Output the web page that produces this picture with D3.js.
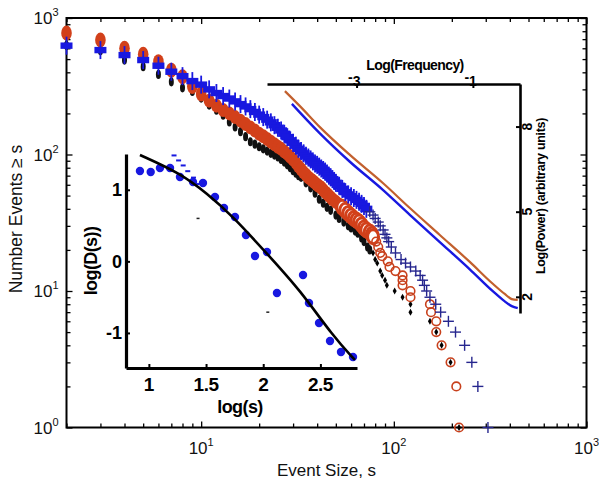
<!DOCTYPE html>
<html><head><meta charset="utf-8">
<script src="https://cdn.jsdelivr.net/npm/d3@7/dist/d3.min.js"></script>
<style>
html,body{margin:0;padding:0;background:#fff;}
svg{display:block;font-family:"Liberation Sans",Arial,Helvetica,sans-serif;}
</style></head><body>
<svg id="c" width="599" height="482"></svg>
<script>
// ---------- main plot data: [event size s, number of events >= s] ----------
const blackBand = [[2,630],[3,575],[4,492],[5,440],[6,386],[7,341],[8,308],[9,290],[10,259],[11,230],[12,211],[13,194],[14,173],[15,159],[16,147],[17,135],[18,124],[19,119],[20,114],[21,110],[22,106],[23,102],[24,99],[25,96],[26,92],[27,88],[28,84],[29,80],[30,76],[31,73],[32,70],[33,68],[35,62],[37,57],[39,52],[41,47],[43,44],[45,41],[47,39],[50,36],[52,34],[55,32],[58,30],[60,29],[63,27.5],[65,26.5],[68,24.5],[70,23],[73,21],[75,20]];
const blackTail = [[78,19],[80,17],[82,16],[85,14],[87,13],[90,12],[92,11],[101,10],[111,9],[122,8],[122,7],[154,6],[166,5],[177,4],[197,3],[218,1]];
const redHead = [[2,776],[3,690],[4,600],[5,542],[6,479],[7,415],[8,371],[9,315],[10,278]];
const redBand = [[11,248],[12,228],[13,212],[14,200],[15,188],[16,177],[17,167],[18,158],[19,150],[20,142],[21,136],[22,130],[23,124],[24,119],[25,114],[26,110],[27,105],[28,101],[29,96],[30,92],[31,87],[32,82],[33,78],[34,74],[35,71],[36,68],[37,66],[38,64],[39,62],[40,60],[41,58.5],[42,57],[43,55],[44,53],[45,51.5],[46,50],[47,48.5],[48,47],[50,45],[52,43],[54,41],[56,39],[58,37],[60,35.5],[62,34],[64,33],[66,32],[68,30.5],[70,29],[72,28],[75,27],[77,26],[78,25]];
const redTail = [[81,23],[83,21],[85,19],[87,18],[93,16.5],[95,15],[102,14],[111,13],[111,12],[111,11],[122,10],[122,9],[154,8],[156,7],[166,6],[166,5],[177,4],[197,3],[211,2],[218,1]];
const blueHead = [[2,627],[3,582],[4,535],[5,492],[6,447],[7,404],[8,375],[9,345],[10,325]];
const blueBand = [[11,300],[12,282],[13,268],[14,257],[15,245],[16,234],[17,225],[18,215],[19,205],[20,196],[21,188],[22,180],[23,172],[24,164],[25,157],[26,150],[27,142],[28,134],[29,127],[30,122],[31,116],[32,110],[33,106],[34,102],[35,98],[36,95],[37,92],[38,89],[39,86],[40,84],[41,81.5],[42,79],[43,77],[44,75],[45,72.5],[46,70],[47,68],[48,66],[49,64],[50,62],[52,59],[54,56],[56,53],[58,51],[60,49.5],[62,48],[64,46.5],[66,45],[68,43.5],[70,42],[72,40]];
const blueTail = [[75,38],[78,36],[80,34],[83,32],[85,30],[88,28],[90,26],[92,24.5],[94,23],[97,21],[102,19],[109,17],[115,16],[122,15],[130,14],[137,13],[141,12],[144,11],[148,10],[154,9],[165,8],[175,7],[192,6],[209,5],[233,4],[254,3],[273,2],[308,1]];
const mainXMajor = [10,100,1000];
const mainYMajor = [1,10,100,1000];
const mainXLabels = [[10,"1"],[100,"2"],[1000,"3"]];
const mainYLabels = [[1,"0"],[10,"1"],[100,"2"],[1000,"3"]];

// ---------- upper-right inset: power spectra [log frequency, log power] ----------
const specOrange = [[-4.232,9.25],[-3.974,8.72],[-3.631,7.98],[-3.115,7.00],[-2.548,6.01],[-2.084,5.13],[-1.569,4.18],[-1.053,3.23],[-0.658,2.46],[-0.452,2.10],[-0.332,1.92],[-0.229,1.89]];
const specBlue = [[-4.112,8.80],[-3.631,7.76],[-3.115,6.76],[-2.548,5.77],[-2.084,4.89],[-1.569,3.93],[-1.053,2.97],[-0.658,2.20],[-0.452,1.84],[-0.332,1.67],[-0.229,1.60]];
const specXTicks = [-3,-1];
const specYTicks = [8,5,2];

// ---------- lower-left inset: log(D(s)) vs log(s) ----------
const dPoints = [[0.922,1.263],[1.016,1.249],[1.097,1.305],[1.185,1.305],[1.272,1.179],[1.386,1.109],[1.473,1.095],[1.578,0.899],[1.657,0.746],[1.753,0.620],[1.849,0.368],[1.928,0.075],[2.033,0.131],[2.120,-0.442],[2.348,-0.191],[2.400,-0.582],[2.488,-0.861],[2.584,-1.113],[2.680,-1.266],[2.785,-1.336]];
const dFit = [[0.922,1.486],[1.272,1.233],[1.506,0.951],[1.738,0.624],[2.030,0.112],[2.322,-0.400],[2.613,-1.053],[2.802,-1.378]];
const dDashes = [[1.22,1.48],[1.26,1.41],[1.30,1.34],[1.34,1.26],[1.39,1.17],[1.42,1.08]];
const dStray = [[1.43,0.60],[2.04,-0.71]];
const dXTicks = [1,1.5,2,2.5];
const dYTicks = [-1,0,1];

const svg = d3.select('#c');
const RED = '#d2401a', BLUE = '#1818e0', NAVY = '#26268e';

// ===== main scales =====
const L = 66.5, R = 586.5, T = 18, B = 427.5;
const x = d3.scaleLog().domain([2,1000]).range([L,R]);
const y = d3.scaleLog().domain([1,1000]).range([B,T]);

// ===== main axes (ticks inward on all sides) =====
function minorOf(sc){ return sc.ticks().filter(v => !Number.isInteger(Math.log10(v)) ); }
const xMinor = minorOf(x), yMinor = minorOf(y);
const axG = svg.append('g').attr('class','axes');
function addAxis(gen, tr){
  const g = axG.append('g').attr('transform', tr).call(gen);
  g.select('.domain').remove();
  g.selectAll('text').remove();
  g.selectAll('line').attr('stroke','#000').attr('stroke-width',1.3);
}
addAxis(d3.axisBottom(x).tickValues(mainXMajor).tickSize(-6), `translate(0,${B})`);
addAxis(d3.axisBottom(x).tickValues(xMinor).tickSize(-4), `translate(0,${B})`);
addAxis(d3.axisTop(x).tickValues(mainXMajor).tickSize(-6), `translate(0,${T})`);
addAxis(d3.axisTop(x).tickValues(xMinor).tickSize(-4), `translate(0,${T})`);
addAxis(d3.axisLeft(y).tickValues(mainYMajor).tickSize(-6), `translate(${L},0)`);
addAxis(d3.axisLeft(y).tickValues(yMinor).tickSize(-4), `translate(${L},0)`);
addAxis(d3.axisRight(y).tickValues(mainYMajor).tickSize(-6), `translate(${R},0)`);
addAxis(d3.axisRight(y).tickValues(yMinor).tickSize(-4), `translate(${R},0)`);
axG.append('rect').attr('x',L).attr('y',T).attr('width',R-L).attr('height',B-T)
  .attr('fill','none').attr('stroke','#000').attr('stroke-width',2);

// tick labels 10^n
mainXLabels.forEach(([v,e])=>{
  const t = svg.append('text').attr('x',x(v)).attr('y',B+26).attr('text-anchor','middle')
    .attr('font-size',17).attr('fill','#111');
  t.append('tspan').text('10');
  t.append('tspan').attr('dy',-8).attr('font-size',11).text(e);
});
mainYLabels.forEach(([v,e])=>{
  const t = svg.append('text').attr('x',L-8).attr('y',y(v)+6).attr('text-anchor','end')
    .attr('font-size',17).attr('fill','#111');
  t.append('tspan').text('10');
  t.append('tspan').attr('dy',-8).attr('font-size',11).text(e);
});
svg.append('text').attr('x',(L+R)/2).attr('y',476).attr('text-anchor','middle')
  .attr('font-size',17).attr('fill','#111').text('Event Size, s');
svg.append('text').attr('transform','translate(22,219) rotate(-90)').attr('text-anchor','middle')
  .attr('font-size',17.5).attr('fill','#111').text('Number Events \u2265 s');

// ===== main series =====
const dataG = svg.append('g');
// black
dataG.append('g').selectAll('ellipse').data(blackBand).join('ellipse')
  .attr('cx',d=>x(d[0])).attr('cy',d=>y(d[1])).attr('rx',2.5).attr('ry',4.6).attr('fill','#111');
dataG.append('g').selectAll('path').data(blackTail).join('path')
  .attr('transform',d=>`translate(${x(d[0])},${y(d[1])})`)
  .attr('d',d3.symbol(d3.symbolDiamond,14)).attr('fill','#000');
// red
dataG.append('g').selectAll('ellipse').data(redHead).join('ellipse')
  .attr('cx',d=>x(d[0])).attr('cy',d=>y(d[1])).attr('rx',5.3).attr('ry',7.5).attr('fill',RED);
dataG.append('g').selectAll('ellipse').data(redBand).join('ellipse')
  .attr('cx',d=>x(d[0])).attr('cy',d=>y(d[1])).attr('rx',5.5).attr('ry',7)
  .attr('fill',d=>d[0] <= 52 ? RED : '#fff').attr('stroke',RED).attr('stroke-width',d=>d[0] <= 52 ? 0 : 3);
dataG.append('g').selectAll('circle').data(redTail).join('circle')
  .attr('cx',d=>x(d[0])).attr('cy',d=>y(d[1])).attr('r',4.3)
  .attr('fill','none').attr('stroke','#c8401c').attr('stroke-width',1.6);
// blue
const bh = dataG.append('g').selectAll('g').data(blueHead.concat(blueBand)).join('g')
  .attr('transform',d=>`translate(${x(d[0])},${y(d[1])})`);
bh.append('line').attr('x1',0).attr('x2',0).attr('y1',-9).attr('y2',9).attr('stroke',BLUE).attr('stroke-width',1.8);
bh.append('rect').attr('x',-6).attr('y',-3.2).attr('width',12).attr('height',6.4).attr('fill',BLUE);
const bt = dataG.append('g').selectAll('g').data(blueTail).join('g')
  .attr('transform',d=>`translate(${x(d[0])},${y(d[1])})`);
bt.append('line').attr('x1',-5.5).attr('x2',5.5).attr('y1',0).attr('y2',0).attr('stroke',NAVY).attr('stroke-width',1.4);
bt.append('line').attr('x1',0).attr('x2',0).attr('y1',-5.5).attr('y2',5.5).attr('stroke',NAVY).attr('stroke-width',1.4);

// ===== upper-right inset =====
const fx = d3.scaleLinear().domain([-4.54,-0.19]).range([267,520]);
const fy = d3.scaleLinear().domain([1.43,9.5]).range([313,84]);
const ins1 = svg.append('g');
const ax1 = ins1.append('g').attr('transform','translate(0,84)')
  .call(d3.axisTop(fx).tickValues(specXTicks).tickSizeInner(-4).tickSizeOuter(0));
ax1.select('.domain').attr('stroke','#000').attr('stroke-width',2.6);
ax1.selectAll('text').remove();
ax1.selectAll('line').attr('stroke','#000').attr('stroke-width',2);
const ay1 = ins1.append('g').attr('transform','translate(520,0)')
  .call(d3.axisRight(fy).tickValues(specYTicks).tickSizeInner(-4).tickSizeOuter(0));
ay1.select('.domain').attr('stroke','#000').attr('stroke-width',2.6);
ay1.selectAll('text').remove();
ay1.selectAll('line').attr('stroke','#000').attr('stroke-width',2);
specXTicks.forEach(v=>{
  const t = ins1.append('text').attr('x',fx(v)+4).attr('y',86).attr('text-anchor','end')
    .attr('font-size',14).attr('font-weight','bold');
  t.append('tspan').attr('dy',-4).text('-');
  t.append('tspan').attr('dy',4).text(String(Math.abs(v)));
});
specYTicks.forEach(v=>{
  ins1.append('text').attr('transform',`translate(532,${fy(v)}) rotate(-90)`).attr('text-anchor','middle')
    .attr('font-size',14).attr('font-weight','bold').text(String(v));
});
ins1.append('text').attr('x',415).attr('y',70).attr('text-anchor','middle')
  .attr('font-size',14).attr('font-weight','bold').attr('letter-spacing',-0.6).text('Log(Frequency)');
ins1.append('text').attr('transform','translate(545,196) rotate(-90)').attr('text-anchor','middle')
  .attr('font-size',12.5).attr('font-weight','bold').attr('letter-spacing',-0.3).text('Log(Power) (arbitrary units)');
const sl = d3.line().x(d=>fx(d[0])).y(d=>fy(d[1])).curve(d3.curveMonotoneX);
ins1.append('path').attr('d',sl(specOrange)).attr('fill','none').attr('stroke','#c2602e').attr('stroke-width',2.2);
ins1.append('path').attr('d',sl(specBlue)).attr('fill','none').attr('stroke',BLUE).attr('stroke-width',2.4);

// ===== lower-left inset =====
const sx = d3.scaleLinear().domain([0.8,2.82]).range([126,357]);
const sy = d3.scaleLinear().domain([-1.49,1.5]).range([368,154]);
const ins2 = svg.append('g');
const ax2 = ins2.append('g').attr('transform','translate(0,368)')
  .call(d3.axisBottom(sx).tickValues(dXTicks).tickSizeInner(-4).tickSizeOuter(0));
ax2.select('.domain').attr('stroke','#000').attr('stroke-width',3.2);
ax2.selectAll('text').remove();
ax2.selectAll('line').attr('stroke','#000').attr('stroke-width',2);
const ay2 = ins2.append('g').attr('transform','translate(126,0)')
  .call(d3.axisLeft(sy).tickValues(dYTicks).tickSizeInner(-4).tickSizeOuter(0));
ay2.select('.domain').attr('stroke','#000').attr('stroke-width',3.2);
ay2.selectAll('text').remove();
ay2.selectAll('line').attr('stroke','#000').attr('stroke-width',2);
dXTicks.forEach(v=>{
  ins2.append('text').attr('x',sx(v)).attr('y',391).attr('text-anchor','middle')
    .attr('font-size',19).attr('font-weight','bold').attr('letter-spacing',-0.5).text(String(v));
});
dYTicks.forEach(v=>{
  ins2.append('text').attr('x',122).attr('y',sy(v)+6.5).attr('text-anchor','end')
    .attr('font-size',18).attr('font-weight','bold').text(String(v));
});
ins2.append('text').attr('x',240).attr('y',413).attr('text-anchor','middle')
  .attr('font-size',18).attr('font-weight','bold').attr('letter-spacing',-0.6).text('log(s)');
ins2.append('text').attr('transform','translate(97,261) rotate(-90)').attr('text-anchor','middle')
  .attr('font-size',18).attr('font-weight','bold').attr('letter-spacing',-0.6).text('log(D(s))');
ins2.append('g').selectAll('line').data(dDashes).join('line')
  .attr('x1',d=>sx(d[0])-2.5).attr('x2',d=>sx(d[0])+2.5).attr('y1',d=>sy(d[1])).attr('y2',d=>sy(d[1]))
  .attr('stroke',BLUE).attr('stroke-width',2);
ins2.append('g').selectAll('line').data(dStray).join('line')
  .attr('x1',d=>sx(d[0])-1.5).attr('x2',d=>sx(d[0])+1.5).attr('y1',d=>sy(d[1])).attr('y2',d=>sy(d[1]))
  .attr('stroke','#222').attr('stroke-width',1.5);
ins2.append('g').selectAll('circle').data(dPoints).join('circle')
  .attr('cx',d=>sx(d[0])).attr('cy',d=>sy(d[1])).attr('r',4.2).attr('fill',BLUE);
ins2.append('path').attr('d',d3.line().x(d=>sx(d[0])).y(d=>sy(d[1])).curve(d3.curveBasis)(dFit))
  .attr('fill','none').attr('stroke','#000').attr('stroke-width',2.6);
</script>
</body></html>
